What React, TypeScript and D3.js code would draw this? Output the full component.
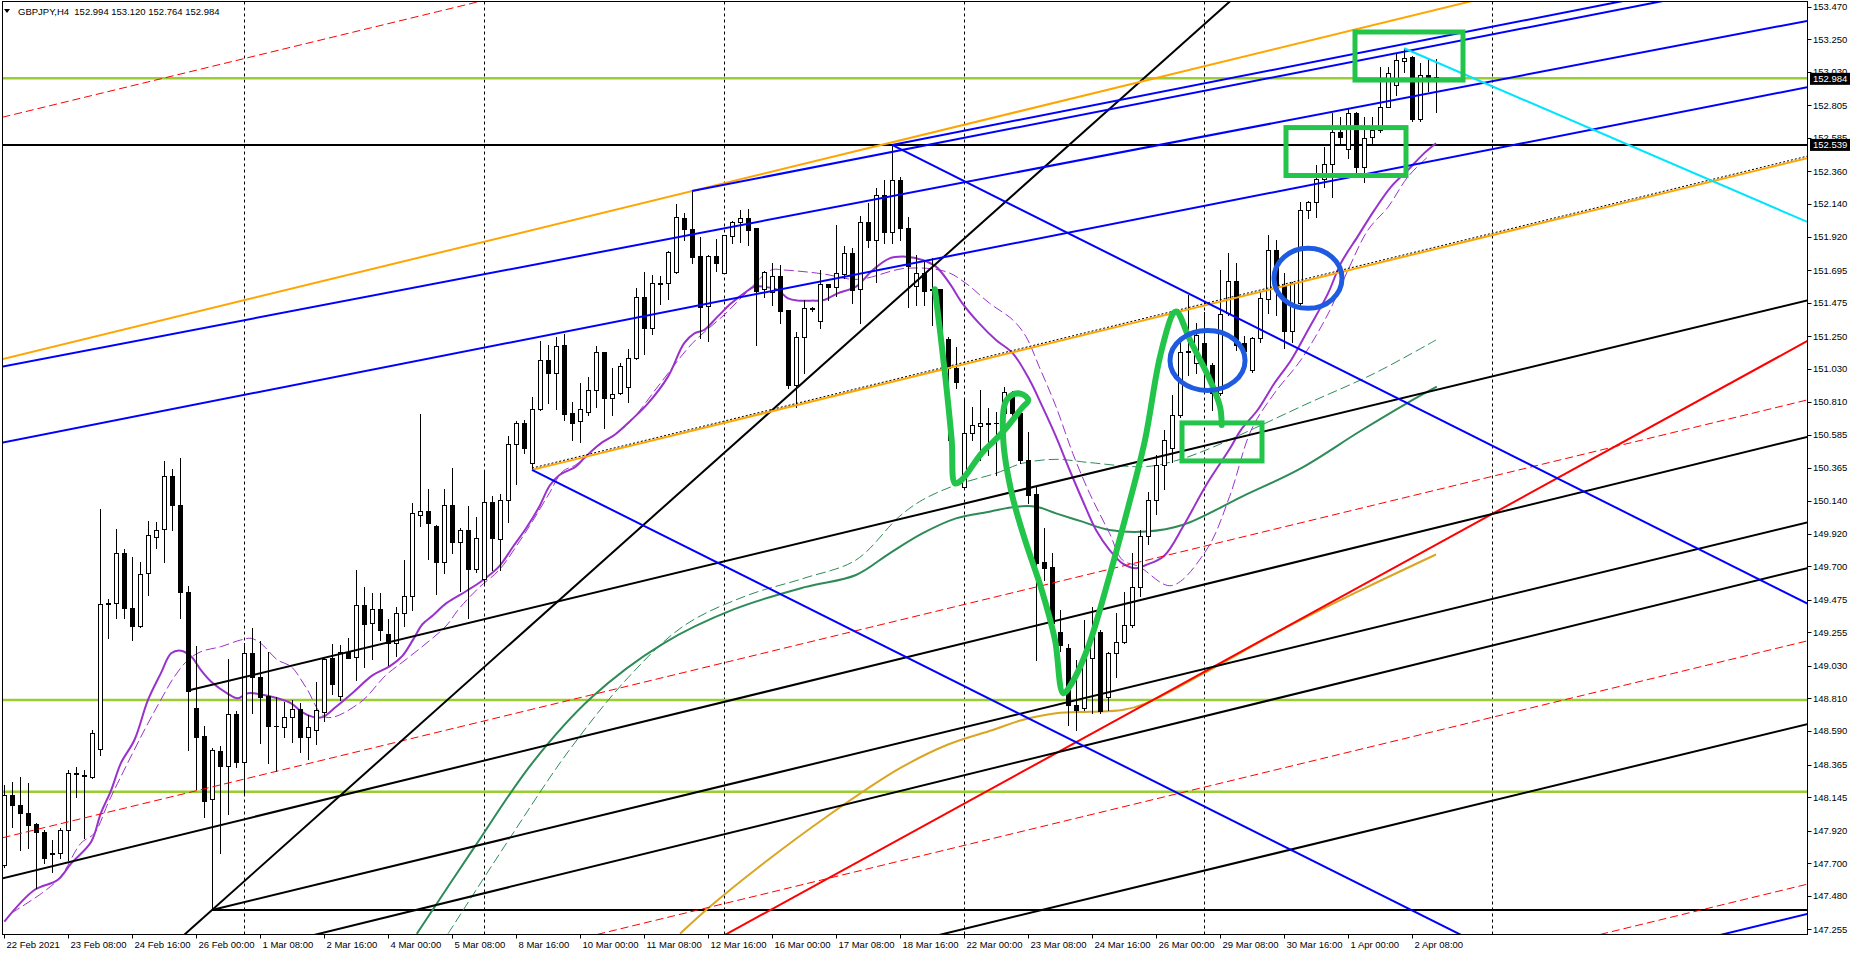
import React, { useMemo } from "react";
import * as d3 from "d3";

// ---------- DATA ----------
const symbolTitle = "GBPJPY,H4  152.994 153.120 152.764 152.984";

// [open, high, low, close] per H4 bar, index 0 = 22 Feb 2021 00:00
const candles: [number, number, number, number][] = [
  [147.688, 148.227, 147.677, 148.16], [148.16, 148.25, 147.946, 148.092], [148.092, 148.283, 147.789, 148.036],
  [148.036, 148.238, 147.8, 147.958], [147.964, 147.969, 147.531, 147.913], [147.913, 147.924, 147.699, 147.733],
  [147.77, 147.857, 147.643, 147.765], [147.767, 147.935, 147.733, 147.924], [147.924, 148.328, 147.722, 148.306],
  [148.306, 148.351, 148.149, 148.3], [148.292, 148.328, 147.868, 148.286], [148.283, 148.598, 148.272, 148.575],
  [148.467, 150.086, 148.429, 149.446], [149.451, 149.478, 149.215, 149.446], [149.451, 149.952, 149.354, 149.788],
  [149.788, 149.817, 149.35, 149.417], [149.417, 149.765, 149.204, 149.298], [149.298, 149.732, 149.294, 149.648],
  [149.653, 150.008, 149.507, 149.909], [149.9, 150.001, 149.821, 149.945], [149.949, 150.41, 149.732, 150.309],
  [150.309, 150.354, 149.945, 150.113], [150.113, 150.428, 149.35, 149.53], [149.53, 149.57, 148.463, 148.863],
  [148.748, 149.163, 148.198, 148.553], [148.557, 148.625, 148.014, 148.122], [148.131, 148.474, 147.385, 148.463],
  [148.456, 148.49, 147.771, 148.357], [148.357, 149.074, 148.032, 148.703], [148.703, 148.726, 148.351, 148.384],
  [148.384, 149.181, 148.171, 149.114], [149.114, 149.283, 148.714, 148.957], [148.952, 149.199, 148.512, 148.822],
  [148.829, 149.121, 148.378, 148.627], [148.627, 148.822, 148.324, 148.623], [148.616, 148.788, 148.548, 148.683],
  [148.683, 148.802, 148.52, 148.74], [148.74, 148.78, 148.45, 148.55], [148.55, 148.7, 148.4, 148.62],
  [148.6, 148.92, 148.5, 148.731], [148.719, 149.085, 148.66, 149.073], [149.085, 149.18, 148.837, 148.908],
  [148.825, 149.168, 148.802, 149.121], [149.121, 149.215, 149.081, 149.085], [149.09, 149.676, 148.932, 149.44],
  [149.44, 149.558, 149.019, 149.31], [149.317, 149.518, 149.073, 149.411], [149.416, 149.518, 149.203, 149.27],
  [149.244, 149.345, 149.038, 149.184], [149.184, 149.423, 149.097, 149.388], [149.388, 149.742, 149.298, 149.499],
  [149.499, 150.13, 149.404, 150.059], [150.049, 150.728, 149.971, 150.073], [150.073, 150.224, 149.752, 149.995],
  [149.971, 149.98, 149.515, 149.728], [149.728, 150.224, 149.657, 150.113], [150.113, 150.361, 149.789, 149.865],
  [149.865, 149.955, 149.534, 149.943], [149.943, 150.106, 149.35, 149.683], [149.683, 150.031, 149.664, 149.889],
  [149.612, 150.35, 149.582, 150.132], [150.132, 150.177, 149.676, 149.889], [149.882, 150.184, 149.676, 150.144],
  [150.144, 150.579, 150.0, 150.522], [150.522, 150.68, 150.255, 150.664], [150.664, 150.687, 150.461, 150.498],
  [150.397, 150.839, 150.35, 150.758], [150.758, 151.219, 150.751, 151.087], [151.087, 151.188, 150.799, 151.0],
  [151.0, 151.247, 150.758, 151.181], [151.188, 151.264, 150.687, 150.728], [150.732, 150.81, 150.55, 150.669],
  [150.681, 150.933, 150.54, 150.758], [150.742, 150.973, 150.72, 150.888], [150.888, 151.184, 150.776, 151.142],
  [151.142, 151.146, 150.63, 150.832], [150.832, 151.034, 150.72, 150.859], [150.866, 151.068, 150.861, 151.05],
  [150.906, 151.162, 150.809, 151.101], [151.101, 151.573, 151.095, 151.512], [151.512, 151.681, 151.131, 151.308],
  [151.308, 151.663, 151.265, 151.607], [151.607, 151.658, 151.467, 151.6], [151.607, 151.827, 151.499, 151.815],
  [151.685, 152.141, 151.678, 152.051], [152.044, 152.078, 151.898, 151.97], [151.97, 152.228, 151.746, 151.786],
  [151.791, 151.921, 151.236, 151.449], [151.456, 151.797, 151.22, 151.793], [151.791, 151.905, 151.692, 151.741],
  [151.678, 151.935, 151.675, 151.93], [151.928, 152.026, 151.876, 152.017], [152.017, 152.1, 151.887, 152.049],
  [152.044, 152.107, 151.865, 151.966], [151.977, 151.98, 151.191, 151.557], [151.566, 151.692, 151.517, 151.681],
  [151.55, 151.741, 151.461, 151.656], [151.656, 151.73, 151.342, 151.422], [151.427, 151.43, 150.899, 150.922],
  [150.922, 151.281, 150.776, 151.243], [151.243, 151.494, 151.005, 151.438], [151.438, 151.45, 151.42, 151.433],
  [151.355, 151.696, 151.308, 151.602], [151.602, 151.605, 151.494, 151.58], [151.584, 151.999, 151.523, 151.674],
  [151.67, 151.858, 151.64, 151.813], [151.809, 151.842, 151.476, 151.562], [151.566, 152.06, 151.337, 152.022],
  [152.022, 152.15, 151.85, 151.9], [151.9, 152.25, 151.618, 152.2], [152.2, 152.3, 151.88, 151.95],
  [151.95, 152.539, 151.88, 152.3], [152.3, 152.32, 151.9, 151.98], [151.98, 152.05, 151.45, 151.723],
  [151.589, 151.797, 151.46, 151.674], [151.674, 151.763, 151.46, 151.557], [151.566, 151.775, 151.326, 151.56],
  [151.566, 151.57, 151.224, 151.231], [151.231, 151.247, 150.551, 151.034], [151.034, 151.18, 150.899, 150.944],
  [150.237, 150.832, 150.226, 150.6], [150.6, 150.776, 150.551, 150.652], [150.645, 150.888, 150.416, 150.663],
  [150.663, 150.765, 150.45, 150.66], [150.663, 150.742, 150.315, 150.668], [150.731, 150.91, 150.7, 150.872],
  [150.86, 150.88, 150.72, 150.735], [150.735, 150.74, 150.393, 150.416], [150.416, 150.607, 150.125, 150.181],
  [150.188, 150.237, 149.069, 149.725], [149.727, 149.956, 149.608, 149.687], [149.693, 149.792, 149.305, 149.316],
  [149.26, 149.406, 149.13, 149.17], [149.148, 149.177, 148.631, 148.766], [148.766, 149.069, 148.597, 148.732],
  [148.743, 149.339, 148.732, 149.08], [149.08, 149.429, 148.71, 149.26], [149.26, 149.27, 148.714, 148.728],
  [148.822, 149.125, 148.732, 149.118], [149.114, 149.383, 148.957, 149.193], [149.193, 149.529, 149.181, 149.305],
  [149.305, 149.788, 149.294, 149.563], [149.563, 149.945, 149.5, 149.904], [149.904, 150.2, 149.85, 150.15],
  [150.15, 150.45, 150.05, 150.38], [150.38, 150.62, 150.22, 150.55], [150.5, 150.854, 150.4, 150.719],
  [150.719, 151.225, 150.708, 151.146], [151.146, 151.528, 150.989, 151.153], [151.068, 151.34, 151.0, 151.259],
  [151.202, 151.416, 150.888, 151.056], [151.056, 151.068, 150.753, 150.866], [150.866, 151.696, 150.854, 151.398],
  [151.404, 151.809, 151.393, 151.622], [151.622, 151.741, 151.157, 151.191], [151.202, 151.252, 151.079, 151.153],
  [151.023, 151.247, 151.011, 151.236], [151.236, 151.55, 151.214, 151.505], [151.499, 151.932, 151.409, 151.831],
  [151.831, 151.898, 151.393, 151.562], [151.595, 151.674, 151.169, 151.288], [151.288, 151.618, 151.214, 151.607],
  [151.472, 152.157, 151.461, 152.1], [152.1, 152.16, 152.044, 152.157], [152.157, 152.404, 152.056, 152.307],
  [152.307, 152.527, 152.258, 152.41], [152.408, 152.756, 152.19, 152.624], [152.624, 152.729, 152.55, 152.59],
  [152.509, 152.785, 152.448, 152.756], [152.756, 152.763, 152.352, 152.388], [152.388, 152.729, 152.291, 152.583],
  [152.59, 152.725, 152.55, 152.639], [152.639, 153.062, 152.628, 152.797], [152.797, 153.066, 152.792, 153.021],
  [152.943, 153.156, 152.875, 153.111], [153.106, 153.19, 153.032, 153.122], [153.133, 153.138, 152.702, 152.711],
  [152.711, 153.088, 152.702, 153.01], [153.01, 153.122, 152.9, 152.992], [152.994, 153.12, 152.764, 152.984],
];

const timeTickBars = [0, 8, 16, 24, 32, 40, 48, 56, 64, 72, 80, 88, 96, 104, 112, 120, 128, 136, 144, 152, 160, 168, 176];
const timeTickLabels = [
  "22 Feb 2021", "23 Feb 08:00", "24 Feb 16:00", "26 Feb 00:00", "1 Mar 08:00", "2 Mar 16:00", "4 Mar 00:00",
  "5 Mar 08:00", "8 Mar 16:00", "10 Mar 00:00", "11 Mar 08:00", "12 Mar 16:00", "16 Mar 00:00", "17 Mar 08:00",
  "18 Mar 16:00", "22 Mar 00:00", "23 Mar 08:00", "24 Mar 16:00", "26 Mar 00:00", "29 Mar 08:00", "30 Mar 16:00",
  "1 Apr 00:00", "2 Apr 08:00",
];
const priceTickLabels = [
  "153.470", "153.250", "153.030", "152.805", "152.585", "152.360", "152.140", "151.920", "151.695", "151.475",
  "151.250", "151.030", "150.810", "150.585", "150.365", "150.140", "149.920", "149.700", "149.475", "149.255",
  "149.030", "148.810", "148.590", "148.365", "148.145", "147.920", "147.700", "147.480", "147.255",
];
const periodSeparatorBars = [30, 60, 90, 120, 150, 186];
const priceBoxes = [152.984, 152.539];

// moving averages: [bar, price]
const maPurple: [number, number][] = [
  [0.04, 147.307], [3.8, 147.52], [6.7, 147.587], [8.4, 147.699], [10.9, 147.845], [12.1, 148.036], [13.4, 148.193],
  [14.6, 148.373], [16.3, 148.53], [18, 148.8], [19.6, 148.979], [20.9, 149.114], [22.1, 149.132], [23.4, 149.092],
  [24.6, 149.002], [25.9, 148.923], [27.9, 148.845], [29.2, 148.811], [30.5, 148.845], [32.5, 148.833], [34.2, 148.811],
  [35.9, 148.777], [37.2, 148.72], [38.6, 148.686], [39.8, 148.684], [41.5, 148.754], [43.6, 148.849], [46.1, 148.967],
  [48.2, 149.026], [49.8, 149.097], [51.1, 149.203], [52.3, 149.31], [53.6, 149.369], [55.3, 149.452], [57.8, 149.534],
  [59.8, 149.605], [61.9, 149.7], [63.6, 149.83], [65.3, 149.96], [66.9, 150.101], [68.2, 150.243], [69.4, 150.314],
  [71.5, 150.373], [72.5, 150.428], [74.6, 150.529], [76.3, 150.585], [78.4, 150.686], [80.5, 150.798], [83, 150.978],
  [85, 151.202], [86.3, 151.27], [87.5, 151.292], [89.2, 151.382], [90.9, 151.472], [92.5, 151.539], [93.8, 151.584],
  [95, 151.584], [96.7, 151.562], [98, 151.505], [99.2, 151.49], [100.9, 151.49], [102.5, 151.494], [104.2, 151.539],
  [106.5, 151.584], [108.6, 151.696], [110.7, 151.775], [112.75, 151.786], [114.8, 151.764], [116.5, 151.719],
  [118.2, 151.606], [119.8, 151.472], [121.9, 151.337], [124, 151.225], [126.1, 151.135], [128.2, 150.955],
  [129.8, 150.776], [131.5, 150.574], [133.2, 150.349], [134.8, 150.147], [136.5, 149.945], [138.2, 149.81],
  [139.8, 149.72], [141.5, 149.687], [142.75, 149.709], [145, 149.77], [147.4, 149.97], [150.3, 150.25],
  [153.2, 150.49], [154.6, 150.618], [156.7, 150.753], [158.8, 150.933], [160.9, 151.09], [163, 151.292],
  [165.5, 151.539], [167.1, 151.741], [169.2, 151.921], [171.3, 152.1], [173.4, 152.258], [175.5, 152.37],
  [177.5, 152.482], [179, 152.55],
];
const maPurpleDashed: [number, number][] = [
  [0.9, 147.363], [5, 147.509], [7.1, 147.61], [9.6, 147.834], [11.3, 147.902], [13, 148.104], [14.6, 148.283],
  [18, 148.643], [19.6, 148.8], [21.3, 148.957], [23, 149.069], [24.6, 149.125], [27.1, 149.159], [29.6, 149.204],
  [30.9, 149.215], [32.1, 149.181], [34.2, 149.069], [35.9, 149.024], [37.75, 148.884], [40.25, 148.684],
  [44.4, 148.778], [47.75, 148.967], [50.25, 149.073], [52.75, 149.18], [55.25, 149.298], [56.9, 149.416],
  [59.4, 149.558], [61.9, 149.676], [64.4, 149.865], [66.1, 150.007], [68.2, 150.196], [69.8, 150.338],
  [71.5, 150.385], [74, 150.5], [78, 150.66], [82, 150.93], [86, 151.2], [90, 151.393], [92.5, 151.528],
  [95.9, 151.696], [97.5, 151.696], [100, 151.685], [102.5, 151.669], [106.7, 151.633], [112.75, 151.708],
  [117.75, 151.685], [120.25, 151.606], [123.2, 151.472], [126.1, 151.36], [127.75, 151.247], [129.4, 151.045],
  [131.5, 150.776], [133.6, 150.461], [135.7, 150.192], [138.2, 149.922], [139.8, 149.743], [141.9, 149.698],
  [145.9, 149.57], [150.3, 149.81], [153.2, 150.17], [155.9, 150.618], [158.8, 150.866], [162.1, 151.09],
  [165.5, 151.4], [168, 151.696], [170.5, 151.966], [173, 152.12], [175.5, 152.325], [178, 152.46],
];
const maGreen: [number, number][] = [
  [51.6, 147.225], [58.7, 147.8], [66.1, 148.38], [73.5, 148.82], [82.4, 149.18], [91.2, 149.41], [100.1, 149.56],
  [106.5, 149.642], [110.7, 149.788], [114.8, 149.922], [119, 150.023], [123.2, 150.068], [126.5, 150.102],
  [129, 150.102], [131.5, 150.057], [134.8, 150.001], [138.2, 149.945], [142.75, 149.934], [147.4, 149.98],
  [154.75, 150.17], [162.1, 150.36], [169.5, 150.61], [175.4, 150.8], [179.1, 150.91],
];
const maGreenDashed: [number, number][] = [
  [55.5, 147.225], [63, 147.85], [70.5, 148.45], [78, 148.95], [85, 149.3], [92.7, 149.5], [100, 149.62],
  [106.5, 149.743], [111.9, 150.035], [114.8, 150.147], [119, 150.248], [124, 150.327], [127.3, 150.394],
  [131.5, 150.421], [135.7, 150.399], [142.75, 150.372], [147, 150.42], [151, 150.5], [156.3, 150.63],
  [163, 150.798], [171.3, 151.0], [179, 151.225],
];
const maGold: [number, number][] = [
  [84.5, 147.225], [88.3, 147.41], [94, 147.66], [103, 148.02], [112, 148.34], [118, 148.5], [123.6, 148.598],
  [127.3, 148.665], [131.5, 148.71], [135.7, 148.721], [139.8, 148.732], [142.75, 148.777], [150, 148.98],
  [160, 149.28], [170, 149.55], [179, 149.78],
];

// drawn objects: anchors as [bar, price]
type Anchor = [number, number];
const redDashedLines: [Anchor, Anchor][] = [
  [[0, 152.728], [120, 154.297]],
  [[0, 147.874], [224.5, 150.809]],
  [[0, 146.251], [224.5, 149.186]],
  [[0, 144.612], [224.5, 147.547]],
];
const redSolidLines: [Anchor, Anchor][] = [[[89.875, 147.21], [224.5, 151.191]]];
const blueLines: [Anchor, Anchor][] = [
  [[-0.5, 151.043], [225.34, 153.374]],
  [[-0.5, 150.531], [225.34, 152.927]],
  [[214, 147.21], [225.375, 147.358]],
];
const blueRays: [Anchor, Anchor][] = [
  [[86, 152.228], [180.75, 153.2275]],
  [[111, 152.539], [180.75, 153.279]],
  [[111, 152.539], [225.3, 149.453]],
  [[66, 150.35], [130.54, 148.609]],
];
const orangeLines: [Anchor, Anchor][] = [[[86, 152.228], [168.625, 153.313]]];
const orangeRays: [Anchor, Anchor][] = [[[66, 150.35], [142.625, 151.3595]]];
const blackLines: [Anchor, Anchor][] = [
  [[26, 147.385], [142, 152.965]],
  [[-0.0875, 147.599], [225.34, 150.571]],
  [[38.25, 147.21], [225.34, 149.687]],
  [[116.375, 147.21], [225.34, 148.636]],
];
const blackRays: [Anchor, Anchor][] = [
  [[26, 147.385], [142.625, 148.912]],
  [[23, 148.863], [142.625, 150.416]],
];
const blackDottedRays: [Anchor, Anchor][] = [[[66, 150.362], [142.625, 151.372]]];
const cyanRays: [Anchor, Anchor][] = [[[175, 153.19], [225.34, 152.022]]];
const blackHorizontals = [152.539];
const blackHorizontalRays: Anchor[] = [[26, 147.385]];
const greenHorizontals = [152.988, 148.8, 148.181];

const handStroke: Anchor[] = [
  [116.375, 151.566], [117.625, 150.997], [118.46, 150.551], [118.875, 150.259], [119.71, 150.282],
  [122.21, 150.462], [124.71, 150.596], [127.21, 150.765], [128.04, 150.821], [127.21, 150.861],
  [125.96, 150.854], [125.125, 150.798], [124.91, 150.551], [125.96, 150.192], [127.625, 149.878],
  [129.71, 149.541], [131.375, 149.204], [132.41, 148.845], [133.46, 148.912], [135.54, 149.159],
  [138.04, 149.608], [140.54, 150.102], [142.625, 150.551], [144.5, 151.112], [146.16, 151.405],
  [146.59, 151.416], [148.25, 151.225], [150.75, 150.955], [152.0, 150.776], [152.21, 150.652],
];
const greenRects: [Anchor, Anchor][] = [
  [[168.875, 153.2996], [182.375, 152.976]],
  [[160.25, 152.6556], [175.25, 152.333]],
  [[147.25, 150.666], [157.25, 150.41]],
];
// [bar, price, radius in bars, radius in price]
const blueEllipses: [number, number, number, number][] = [
  [150.44, 151.087, 4.69, 0.202],
  [163, 151.64, 4.25, 0.202],
];

// ---------- CHART ----------
const W = 1853;
const H = 954;
const PL = 2.5, PR = 1807.5, PT = 1.5, PB = 934.5;
const FONT = "'Liberation Sans', Arial, sans-serif";

export default function App() {
  const x = useMemo(() => d3.scaleLinear().domain([0, 225]).range([4, 1804]), []);
  const y = useMemo(() => d3.scaleLinear().domain([147.255, 153.47]).range([929.3, 6.7]), []);

  const seg = (a: Anchor, b: Anchor, ext: "both" | "right") => {
    const x1 = x(a[0]), y1 = y(a[1]), x2 = x(b[0]), y2 = y(b[1]);
    const m = (y2 - y1) / (x2 - x1);
    const xs = ext === "both" ? PL : x1;
    const xe = PR;
    return { x1: xs, y1: y1 + m * (xs - x1), x2: xe, y2: y1 + m * (xe - x1) };
  };

  const curve = (pts: [number, number][]) =>
    d3.line<[number, number]>().x((d) => x(d[0])).y((d) => y(d[1])).curve(d3.curveCatmullRom.alpha(0.5))(pts) || "";

  const renderLines = (lines: [Anchor, Anchor][], ext: "both" | "right", stroke: string, w: number, dash?: string, key = "") =>
    lines.map((l, k) => {
      const s = seg(l[0], l[1], ext);
      return <line key={key + k} x1={s.x1} y1={s.y1} x2={s.x2} y2={s.y2} stroke={stroke} strokeWidth={w} strokeDasharray={dash} />;
    });

  return (
    <svg width={W} height={H} style={{ position: "fixed", left: 0, top: 0, background: "#fff" }} xmlns="http://www.w3.org/2000/svg">
      <defs>
        <clipPath id="plot">
          <rect x={PL + 0.5} y={PT + 0.5} width={PR - PL - 1} height={PB - PT - 1} />
        </clipPath>
      </defs>
      <rect x={0} y={0} width={W} height={H} fill="#fff" />
      <g clipPath="url(#plot)">
        {periodSeparatorBars.map((b) => (
          <line key={"sep" + b} x1={Math.round(x(b)) + 0.5} x2={Math.round(x(b)) + 0.5} y1={PT} y2={PB} stroke="#000" strokeWidth={1} strokeDasharray="3,3" />
        ))}
        {greenHorizontals.map((p) => (
          <line key={"gh" + p} x1={PL} x2={PR} y1={y(p)} y2={y(p)} stroke="#9ACD32" strokeWidth={2.5} />
        ))}
        {blackHorizontals.map((p) => (
          <line key={"bh" + p} x1={PL} x2={PR} y1={y(p)} y2={y(p)} stroke="#000" strokeWidth={2} />
        ))}
        {blackHorizontalRays.map((a, k) => (
          <line key={"bhr" + k} x1={x(a[0])} x2={PR} y1={y(a[1])} y2={y(a[1])} stroke="#000" strokeWidth={2} />
        ))}
        <path d={curve(maGold)} fill="none" stroke="#DAA520" strokeWidth={2} />
        <path d={curve(maGreen)} fill="none" stroke="#2E8B57" strokeWidth={2} />
        <path d={curve(maGreenDashed)} fill="none" stroke="#2E8B57" strokeWidth={1} strokeDasharray="10,4" />
        <path d={curve(maPurpleDashed)} fill="none" stroke="#9932CC" strokeWidth={1} strokeDasharray="10,4" />
        <path d={curve(maPurple)} fill="none" stroke="#9932CC" strokeWidth={2} />
        {candles.map((c, i) => {
          const [o, h, l, cl] = c;
          const cx = Math.round(x(i));
          const yo = Math.round(y(o)), yc = Math.round(y(cl)), yh = Math.round(y(h)), yl = Math.round(y(l));
          const top = Math.min(yo, yc), bot = Math.max(yo, yc);
          const bull = cl >= o;
          return (
            <g key={"c" + i} shapeRendering="crispEdges">
              <line x1={cx + 0.5} x2={cx + 0.5} y1={yh} y2={yl + 1} stroke="#000" strokeWidth={1} />
              {bot - top < 1 ? (
                <line x1={cx - 2} x2={cx + 3} y1={top + 0.5} y2={top + 0.5} stroke="#000" strokeWidth={1} />
              ) : (
                <rect x={cx - 1.5} y={top + 0.5} width={4} height={bot - top} fill={bull ? "#fff" : "#000"} stroke="#000" strokeWidth={1} />
              )}
            </g>
          );
        })}
        {renderLines(redDashedLines, "both", "#FF0000", 1, "8,4", "rd")}
        {renderLines(redSolidLines, "both", "#FF0000", 2, undefined, "rs")}
        {renderLines(blackLines, "both", "#000", 2, undefined, "kl")}
        {renderLines(blackRays, "right", "#000", 2, undefined, "kr")}
        {renderLines(orangeLines, "both", "#FFA500", 2, undefined, "ol")}
        {renderLines(orangeRays, "right", "#FFA500", 2, undefined, "or")}
        {renderLines(blackDottedRays, "right", "#000", 1, "2,2", "kd")}
        {renderLines(blueLines, "both", "#0000FF", 2, undefined, "bl")}
        {renderLines(blueRays, "right", "#0000FF", 2, undefined, "br")}
        {renderLines(cyanRays, "right", "#00E5FF", 2, undefined, "cy")}
        <path d={curve(handStroke)} fill="none" stroke="#22C44A" strokeWidth={6} strokeLinecap="round" strokeLinejoin="round" />
        {greenRects.map((r, k) => (
          <rect key={"gr" + k} x={x(r[0][0])} y={y(r[0][1])} width={x(r[1][0]) - x(r[0][0])} height={y(r[1][1]) - y(r[0][1])}
            fill="none" stroke="#22C44A" strokeWidth={5} />
        ))}
        {blueEllipses.map((e, k) => (
          <ellipse key={"be" + k} cx={x(e[0])} cy={y(e[1])} rx={x(e[0] + e[2]) - x(e[0])} ry={y(e[1]) - y(e[1] + e[3])}
            fill="none" stroke="#1F5BE0" strokeWidth={5} />
        ))}
      </g>
      <rect x={PL} y={PT} width={PR - PL} height={PB - PT} fill="none" stroke="#000" strokeWidth={1} />
      {priceTickLabels.map((t) => {
        const yy = y(+t);
        return (
          <g key={"pt" + t}>
            <line x1={PR} x2={PR + 4} y1={Math.round(yy) + 0.5} y2={Math.round(yy) + 0.5} stroke="#000" strokeWidth={1} />
            <text x={1813} y={yy} dy="0.35em" fontFamily={FONT} fontSize={9.5} fill="#000">{t}</text>
          </g>
        );
      })}
      {priceBoxes.map((p) => (
        <g key={"pb" + p}>
          <rect x={1810} y={y(p) - 6} width={40} height={12} fill="#000" />
          <text x={1813} y={y(p)} dy="0.35em" fontFamily={FONT} fontSize={9.5} fill="#fff">{p.toFixed(3)}</text>
        </g>
      ))}
      {timeTickBars.map((b, k) => {
        const xx = Math.round(x(b)) + 0.5;
        return (
          <g key={"tt" + b}>
            <line x1={xx} x2={xx} y1={PB} y2={PB + 4} stroke="#000" strokeWidth={1} />
            <text x={xx + 2} y={948} fontFamily={FONT} fontSize={9.5} fill="#000">{timeTickLabels[k]}</text>
          </g>
        );
      })}
      <path d="M4,9 L10,9 L7,13 Z" fill="#000" />
      <text x={18} y={15} fontFamily={FONT} fontSize={9.5} fill="#000" style={{ whiteSpace: "pre" }}>{symbolTitle}</text>
    </svg>
  );
}
